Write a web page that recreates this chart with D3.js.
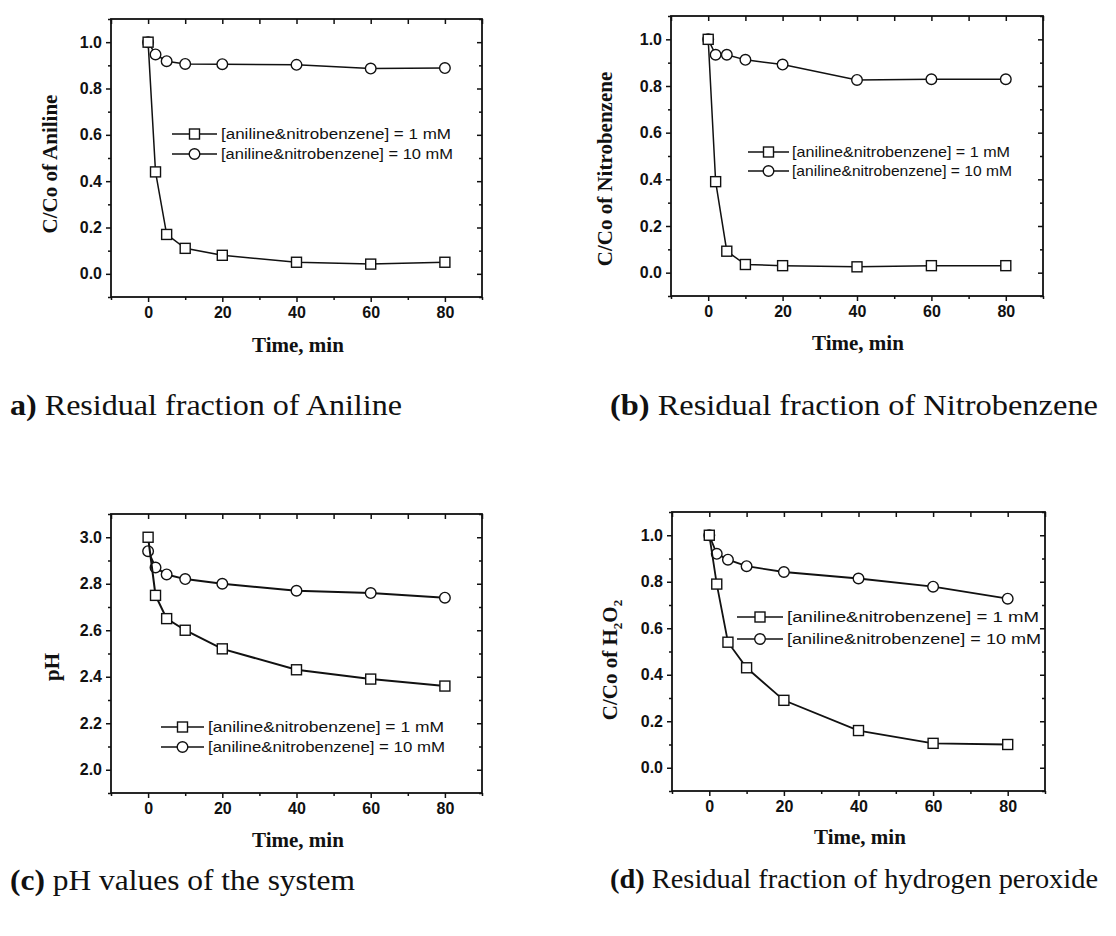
<!DOCTYPE html>
<html>
<head>
<meta charset="utf-8">
<script src="https://cdn.jsdelivr.net/npm/d3@7"></script>
<style>
  html, body { margin: 0; padding: 0; background: #fff; }
  svg { display: block; }
</style>
</head>
<body>
<svg id="chart" width="1116" height="936"></svg>
<script>
// ---------------- data ----------------
const timeMin = [0, 2, 5, 10, 20, 40, 60, 80];

const anilineLow  = [1.00, 0.44, 0.17, 0.11, 0.08, 0.05, 0.042, 0.05];
const anilineHigh = [1.00, 0.947, 0.918, 0.906, 0.905, 0.902, 0.886, 0.888];

const nitroLow  = [1.00, 0.39, 0.092, 0.035, 0.030, 0.025, 0.030, 0.030];
const nitroHigh = [1.00, 0.934, 0.934, 0.912, 0.892, 0.826, 0.829, 0.829];

const phLow  = [3.00, 2.75, 2.65, 2.60, 2.52, 2.43, 2.39, 2.36];
const phHigh = [2.94, 2.87, 2.84, 2.82, 2.80, 2.77, 2.76, 2.74];

const h2o2Low  = [1.00, 0.79, 0.54, 0.43, 0.29, 0.16, 0.105, 0.10];
const h2o2High = [1.00, 0.92, 0.895, 0.867, 0.842, 0.814, 0.779, 0.727];

const xTicks = [0, 20, 40, 60, 80];
const xMinorTicks = [-10, 10, 30, 50, 70, 90];
const fracTicks = [0.0, 0.2, 0.4, 0.6, 0.8, 1.0];
const fracMinorTicks = [-0.1, 0.1, 0.3, 0.5, 0.7, 0.9, 1.1];
const phTicks = [2.0, 2.2, 2.4, 2.6, 2.8, 3.0];
const phMinorTicks = [1.9, 2.1, 2.3, 2.5, 2.7, 2.9, 3.1];

const legendLabels = ["[aniline&nitrobenzene] = 1  mM", "[aniline&nitrobenzene] = 10 mM"];
const xTitle = "Time, min";
const captionTags = ["a)", "(b)", "(c)", "(d)"];
const captionTexts = [" Residual fraction of Aniline", " Residual fraction of Nitrobenzene",
                      " pH values of the system", " Residual fraction of hydrogen peroxide"];

// ---------------- layout ----------------
const panels = [
  { low: anilineLow, high: anilineHigh, yDom: [-0.1, 1.1], ticks: fracTicks, minor: fracMinorTicks, fmt: d3.format(".1f"),
    box: {l: 111, r: 482, t: 19, b: 297}, ytitle: {x: 50, y: 164, parts: [["C/Co of Aniline", 0]]},
    xt: {x: 298, y: 352}, leg: {x0: 172, x1: 217, tx: 221, y: [134, 154], fs: 15.5, tl: [230, 232]},
    cap: {x: 10, y: 415, w: 392, fs: 30}, lw: 1.5 },
  { low: nitroLow, high: nitroHigh, yDom: [-0.1, 1.1], ticks: fracTicks, minor: fracMinorTicks, fmt: d3.format(".1f"),
    box: {l: 671, r: 1043, t: 16, b: 296}, ytitle: {x: 605, y: 169, parts: [["C/Co of Nitrobenzene", 0]]},
    xt: {x: 858, y: 350}, leg: {x0: 748, x1: 789, tx: 792, y: [152, 171], fs: 14.5, tl: [218, 220]},
    cap: {x: 610, y: 415, w: 488, fs: 30}, lw: 1.5 },
  { low: phLow, high: phHigh, yDom: [1.9, 3.1], ticks: phTicks, minor: phMinorTicks, fmt: d3.format(".1f"),
    box: {l: 111, r: 482, t: 514, b: 793}, ytitle: {x: 52, y: 667, parts: [["pH", 0]]},
    xt: {x: 298, y: 847}, leg: {x0: 161, x1: 204, tx: 208, y: [727, 747], fs: 15, tl: [236, 237]},
    cap: {x: 10, y: 890, w: 345, fs: 30}, lw: 2 },
  { low: h2o2Low, high: h2o2High, yDom: [-0.1, 1.1], ticks: fracTicks, minor: fracMinorTicks, fmt: d3.format(".1f"),
    box: {l: 672, r: 1045, t: 512, b: 791}, ytitle: {x: 610, y: 660, parts: [["C/Co of H", 0], ["2", 1], ["O", 0], ["2", 1]]},
    xt: {x: 860, y: 844}, leg: {x0: 737, x1: 783, tx: 787, y: [617, 639], fs: 15.5, tl: [252, 254]},
    cap: {x: 610, y: 888, w: 488, fs: 28}, lw: 1.8 }
];

const svg = d3.select("#chart");
const sansBold = "'Liberation Sans', Arial, sans-serif";
const serif = "'Liberation Serif', 'Times New Roman', serif";

function drawMarker(g, kind, cx, cy) {
  if (kind === "sq") {
    g.append("rect").attr("x", cx - 5).attr("y", cy - 5).attr("width", 10).attr("height", 10)
      .attr("fill", "#fff").attr("stroke", "#111").attr("stroke-width", 1.4);
  } else {
    g.append("circle").attr("cx", cx).attr("cy", cy).attr("r", 5.3)
      .attr("fill", "#fff").attr("stroke", "#111").attr("stroke-width", 1.4);
  }
}

panels.forEach((p, i) => {
  const g = svg.append("g");
  const x = d3.scaleLinear().domain([-10, 90]).range([p.box.l, p.box.r]);
  const y = d3.scaleLinear().domain(p.yDom).range([p.box.b, p.box.t]);

  // bottom axis (outward ticks)
  g.append("g").attr("transform", `translate(0,${p.box.b})`)
    .call(d3.axisBottom(x).tickValues(xTicks).tickSize(5).tickPadding(5).tickFormat(d3.format("d")));
  g.append("g").attr("transform", `translate(0,${p.box.b})`)
    .call(d3.axisBottom(x).tickValues(xMinorTicks).tickSize(3).tickFormat(""));
  // left axis (outward ticks)
  g.append("g").attr("transform", `translate(${p.box.l},0)`)
    .call(d3.axisLeft(y).tickValues(p.ticks).tickSize(5).tickPadding(4).tickFormat(p.fmt));
  g.append("g").attr("transform", `translate(${p.box.l},0)`)
    .call(d3.axisLeft(y).tickValues(p.minor).tickSize(3).tickFormat(""));
  // top axis (inward ticks)
  g.append("g").attr("transform", `translate(0,${p.box.t})`)
    .call(d3.axisTop(x).tickValues(xTicks.concat(xMinorTicks)).tickSize(-5).tickFormat(""));
  // right axis (inward ticks)
  g.append("g").attr("transform", `translate(${p.box.r},0)`)
    .call(d3.axisRight(y).tickValues(p.ticks).tickSize(-5).tickFormat(""));
  g.append("g").attr("transform", `translate(${p.box.r},0)`)
    .call(d3.axisRight(y).tickValues(p.minor).tickSize(-3).tickFormat(""));

  g.selectAll(".domain").remove();
  g.selectAll(".tick line").attr("stroke", "#111").attr("stroke-width", 1.5);
  g.selectAll(".tick text").attr("fill", "#111")
    .style("font-family", sansBold).style("font-weight", "bold").style("font-size", "16px");

  // frame
  g.append("rect").attr("x", p.box.l).attr("y", p.box.t)
    .attr("width", p.box.r - p.box.l).attr("height", p.box.b - p.box.t)
    .attr("fill", "none").attr("stroke", "#111").attr("stroke-width", 1.8);

  // series
  const line = d3.line().x((d, k) => x(timeMin[k])).y(d => y(d));
  [["high", "ci"], ["low", "sq"]].forEach(([key, kind]) => {
    const vals = p[key];
    g.append("path").datum(vals).attr("d", line)
      .attr("fill", "none").attr("stroke", "#111").attr("stroke-width", p.lw);
    vals.forEach((v, k) => drawMarker(g, kind, x(timeMin[k]), y(v)));
  });

  // legend
  [["sq", 0], ["ci", 1]].forEach(([kind, r]) => {
    const ly = p.leg.y[r];
    g.append("line").attr("x1", p.leg.x0).attr("x2", p.leg.x1).attr("y1", ly).attr("y2", ly)
      .attr("stroke", "#111").attr("stroke-width", 1.5);
    drawMarker(g, kind, (p.leg.x0 + p.leg.x1) / 2, ly);
    g.append("text").attr("x", p.leg.tx).attr("y", ly).attr("dy", "0.35em")
      .attr("textLength", p.leg.tl[r]).attr("lengthAdjust", "spacingAndGlyphs")
      .style("font-family", "'Liberation Sans', Arial, sans-serif").style("font-size", p.leg.fs + "px")
      .attr("fill", "#111").text(legendLabels[r]);
  });

  // y title
  const yt = g.append("text").attr("transform", `translate(${p.ytitle.x},${p.ytitle.y}) rotate(-90)`)
    .attr("text-anchor", "middle").attr("dy", "0.35em")
    .style("font-family", serif).style("font-weight", "bold").style("font-size", "21px").attr("fill", "#111");
  let shifted = false;
  p.ytitle.parts.forEach(([t, sub]) => {
    const ts = yt.append("tspan").text(t);
    if (sub) { ts.attr("dy", 5).style("font-size", "13px"); shifted = true; }
    else if (shifted) { ts.attr("dy", -5); shifted = false; }
  });

  // x title
  g.append("text").attr("x", p.xt.x).attr("y", p.xt.y).attr("text-anchor", "middle")
    .style("font-family", serif).style("font-weight", "bold").style("font-size", "21px")
    .attr("fill", "#111").text(xTitle);

  // caption
  const cap = svg.append("text").attr("x", p.cap.x).attr("y", p.cap.y)
    .attr("textLength", p.cap.w).attr("lengthAdjust", "spacingAndGlyphs")
    .style("font-family", serif).style("font-size", p.cap.fs + "px").attr("fill", "#111");
  cap.append("tspan").style("font-weight", "bold").text(captionTags[i]);
  cap.append("tspan").text(captionTexts[i]);
});
</script>
</body>
</html>
